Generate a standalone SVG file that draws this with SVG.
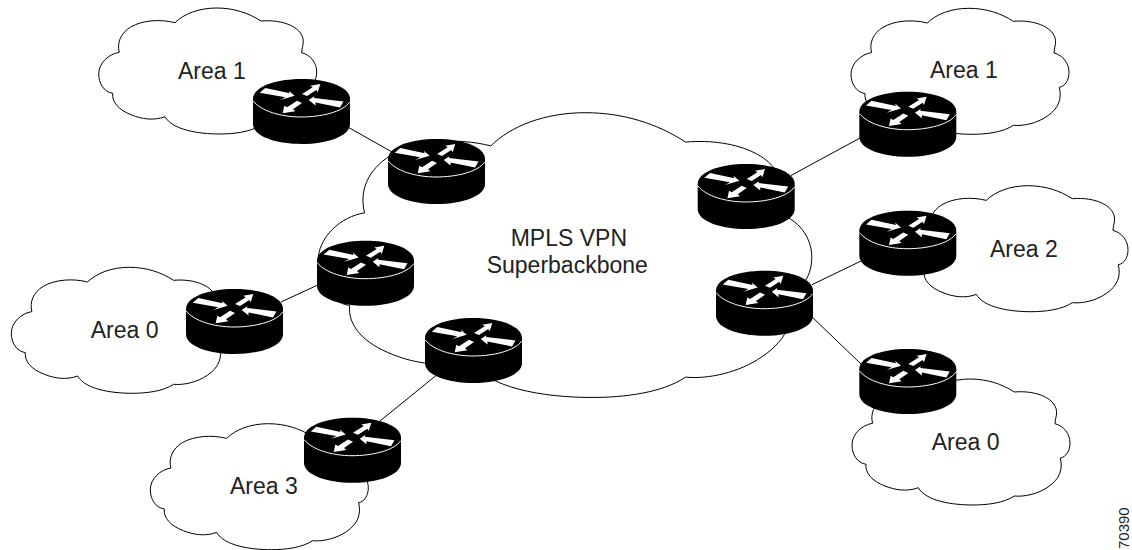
<svg xmlns="http://www.w3.org/2000/svg" xmlns:xlink="http://www.w3.org/1999/xlink" width="1132" height="550" viewBox="0 0 1132 550">
<style>
.cloud{fill:#fff;stroke:#000;stroke-width:1;vector-effect:non-scaling-stroke}
.link{stroke:#000;stroke-width:1;fill:none}
.rb{fill:#000}
.rl{fill:none;stroke:#fff;stroke-width:1}
.ra{fill:#fff}
text{font-family:"Liberation Sans",Arial,sans-serif;font-size:23px;fill:#222}
</style>
<defs>
<path id="cl" class="cloud" d="M76.3,14.7C85,6 100,0 118,0C135,0 150,5 162.3,13C185,11 206,20 204.5,35C204.3,38 203,41 203,44.7C212,47 218,55 218,64C218,72 214,78 208.3,79C211,90 208,100 196,108C186,115 172,118 162.3,117C152,124 135,126 121,126C100,126 74,122 66.3,108.7C55,113 43,111 33,107C20,102 13,94 14,85.3C5,84 0,75 0,66C0,55 10,46 20.6,44.3C18,35 22,25 32,19C44,12 62,11 76.3,14.7Z"/>
<g id="rt">
<path class="rb" d="M0,20C0,8 22,0 48.5,0C75,0 97,8 97,20V45C97,57 75,65 48.5,65C22,65 0,57 0,45Z"/>
<path class="rl" d="M0.3,22C8,32 28,38 48,38C68,38 90,33 96.7,23"/>
<path class="ra" d="M12.3,9L36.7,14.3L35.7,11.7L41.7,16.7L27.3,21L32.3,18.3L6.7,13.7Z"/>
<path class="ra" d="M67.3,5L57.3,6.7L59.7,8.3L49,15L54,17L63.3,11L64.7,13.3Z"/>
<path class="ra" d="M55.7,21L61.3,17.3L61,19L90.5,22.5L87,28.5L62.5,23.5L62.5,26.5Z"/>
<path class="ra" d="M29.7,34.3L31.3,26.7L34,28.3L44,21.7L49,24L40,30.3L42.3,32.3Z"/>
</g>
</defs>
<g id="cloud-backbone"><use xlink:href="#cl" href="#cl" transform="translate(318,112.7) scale(2.265,2.26)"/><text x="510.7" y="246">MPLS VPN</text><text x="486.7" y="272.7">Superbackbone</text></g>
<g id="cloud-area1-left"><use href="#cl" x="98.7" y="8"/><text x="178" y="79">Area 1</text></g>
<g id="cloud-area0-left"><use href="#cl" x="11.3" y="267.3"/><text x="90.7" y="337.7">Area 0</text></g>
<g id="cloud-area3"><use href="#cl" x="150.3" y="423.7"/><text x="230" y="494.3">Area 3</text></g>
<g id="cloud-area1-right"><use href="#cl" x="851" y="8.3"/><text x="930" y="78.3">Area 1</text></g>
<g id="cloud-area2"><use href="#cl" x="910" y="185.7"/><text x="990" y="256.7">Area 2</text></g>
<g id="cloud-area0-right"><use href="#cl" x="852" y="379"/><text x="931.7" y="450">Area 0</text></g>
<g id="connectors">
<line class="link" x1="349" y1="127.7" x2="392" y2="152"/>
<line class="link" x1="281" y1="302" x2="320" y2="284"/>
<line class="link" x1="436.7" y1="375" x2="380" y2="421"/>
<line class="link" x1="791" y1="175.5" x2="860" y2="138"/>
<line class="link" x1="812" y1="284.7" x2="861" y2="261"/>
<line class="link" x1="810" y1="315" x2="861" y2="364"/>
</g>
<g id="router-1"><use href="#rt" x="253" y="79"/></g>
<g id="router-2"><use href="#rt" x="388" y="139"/></g>
<g id="router-3"><use href="#rt" x="186" y="289"/></g>
<g id="router-4"><use href="#rt" x="317" y="240.7"/></g>
<g id="router-5"><use href="#rt" x="425" y="318"/></g>
<g id="router-6"><use href="#rt" x="304" y="417.7"/></g>
<g id="router-7"><use href="#rt" x="697.7" y="164"/></g>
<g id="router-8"><use href="#rt" x="716" y="270.7"/></g>
<g id="router-9"><use href="#rt" x="859.3" y="91.7"/></g>
<g id="router-10"><use href="#rt" x="859.3" y="210.7"/></g>
<g id="router-11"><use href="#rt" x="859.3" y="349"/></g>
<text transform="translate(1128.5,549) rotate(-90)" style="font-size:15px">70390</text>
</svg>
